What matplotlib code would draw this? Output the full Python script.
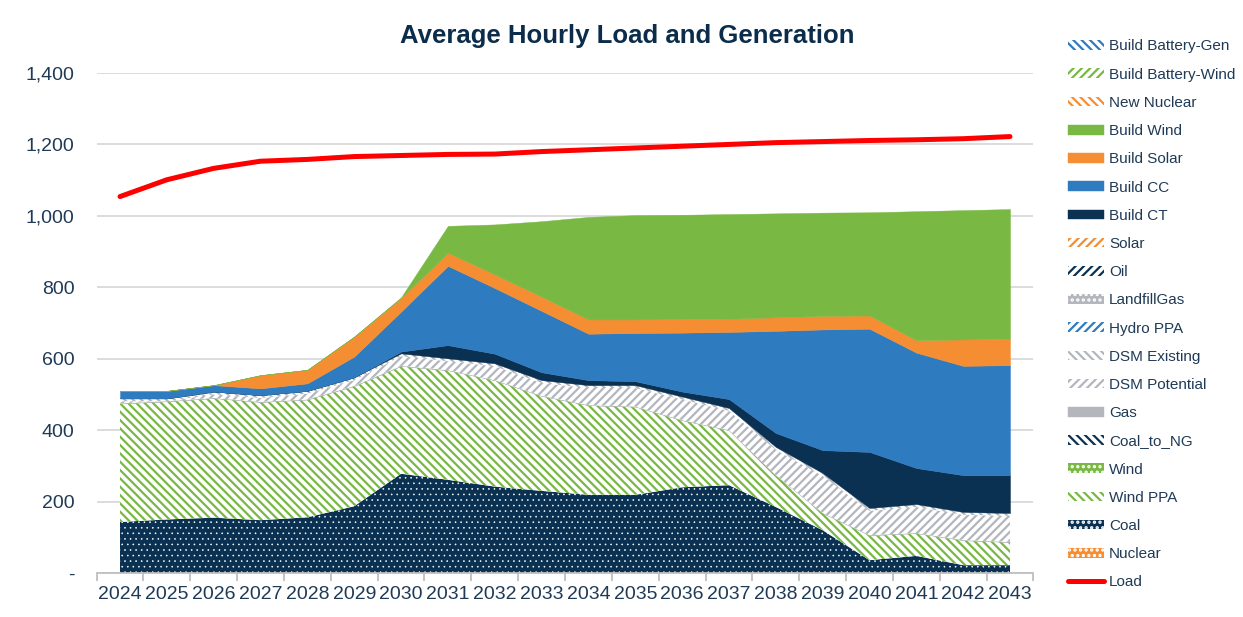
import numpy as np
import matplotlib.pyplot as plt
from matplotlib.patches import Patch
from matplotlib.lines import Line2D

plt.rcParams['font.family'] = ['Liberation Sans', 'DejaVu Sans']
plt.rcParams['hatch.linewidth'] = 1.6

# Data, average MW per hour
years = list(range(2024, 2044))

load = [1054, 1101, 1133, 1153, 1158, 1166, 1169, 1172, 1173, 1180,
        1185, 1190, 1195, 1200, 1205, 1208, 1211, 1213, 1216, 1222]

zeros = [0] * 20
nuclear = zeros
coal = [143, 150, 155, 148, 156, 187, 278, 261, 242, 230,
        219, 219, 240, 246, 185, 120, 36, 48, 22, 22]
wind_ppa = [332, 331, 335, 331, 330, 337, 302, 307, 298, 266,
            251, 247, 188, 154, 89, 48, 70, 64, 70, 65]
wind = zeros
coal_to_ng = zeros
gas = zeros
dsm_potential = [6, 0, 10, 11, 16, 16, 27, 25, 39, 36,
                 48, 52, 58, 54, 71, 104, 68, 73, 71, 73]
dsm_existing = [8, 8, 8, 8, 8, 8, 8, 8, 8, 8,
                8, 8, 8, 8, 8, 8, 8, 8, 8, 8]
hydro_ppa = zeros
landfill_gas = zeros
oil = zeros
solar = zeros
build_ct = [0, 0, 0, 0, 0, 0, 5, 37, 27, 22,
            14, 11, 14, 25, 39, 64, 157, 101, 103, 106]
build_cc = [21, 21, 18, 19, 21, 58, 112, 222, 184, 172,
            130, 135, 165, 188, 286, 338, 345, 323, 306, 308]
build_solar = [0, 0, 0, 37, 38, 56, 38, 37, 38, 40,
               40, 38, 38, 37, 38, 38, 37, 35, 74, 74]
build_wind = [0, 0, 0, 0, 0, 0, 2, 75, 140, 211,
              287, 292, 292, 293, 291, 289, 289, 361, 362, 363]
new_nuclear = zeros
build_battery_wind = zeros
build_battery_gen = zeros

# stacking order, bottom to top
stack = [
    ("Nuclear", nuclear),
    ("Coal", coal),
    ("Wind PPA", wind_ppa),
    ("Wind", wind),
    ("Coal_to_NG", coal_to_ng),
    ("Gas", gas),
    ("DSM Potential", dsm_potential),
    ("DSM Existing", dsm_existing),
    ("Hydro PPA", hydro_ppa),
    ("LandfillGas", landfill_gas),
    ("Oil", oil),
    ("Solar", solar),
    ("Build CT", build_ct),
    ("Build CC", build_cc),
    ("Build Solar", build_solar),
    ("Build Wind", build_wind),
    ("New Nuclear", new_nuclear),
    ("Build Battery-Wind", build_battery_wind),
    ("Build Battery-Gen", build_battery_gen),
]

NAVY = '#0A3152'
BLUE = '#2F7BBF'
ORANGE = '#F58E33'
GREEN = '#78B843'
GRAY = '#B3B6BD'
TXT = '#1F3A56'

BACK = '\\' * 4
FWD = '////'

# color, fill kind, hatch
styles = {
    "Build Battery-Gen": (BLUE, 'hatch', BACK),
    "Build Battery-Wind": (GREEN, 'hatch', FWD),
    "New Nuclear": (ORANGE, 'hatch', BACK),
    "Build Wind": (GREEN, 'solid', None),
    "Build Solar": (ORANGE, 'solid', None),
    "Build CC": (BLUE, 'solid', None),
    "Build CT": (NAVY, 'solid', None),
    "Solar": (ORANGE, 'hatch', FWD),
    "Oil": (NAVY, 'hatch', FWD),
    "LandfillGas": (GRAY, 'dots', '...'),
    "Hydro PPA": (BLUE, 'hatch', FWD),
    "DSM Existing": (GRAY, 'hatch', BACK),
    "DSM Potential": (GRAY, 'hatch', FWD),
    "Gas": (GRAY, 'solid', None),
    "Coal_to_NG": (NAVY, 'hatch', BACK),
    "Wind": (GREEN, 'dots', '...'),
    "Wind PPA": (GREEN, 'hatch', BACK),
    "Coal": (NAVY, 'dots', '...'),
    "Nuclear": (ORANGE, 'dots', '...'),
}


def fill_kw(name):
    color, kind, hatch = styles[name]
    if kind == 'solid':
        return dict(facecolor=color, edgecolor=color, linewidth=0.3)
    if kind == 'hatch':
        return dict(facecolor='white', edgecolor=color, hatch=hatch, linewidth=0)
    return dict(facecolor=color, edgecolor='white', hatch=hatch, linewidth=0)


def hatch_lw(name):
    return 0.4 if styles[name][1] == 'dots' else 1.6


fig = plt.figure(figsize=(12.43, 6.17), dpi=100)
ax = fig.add_axes([0.0777, 0.0713, 0.7537, 0.8104])

x = np.arange(len(years))
base = np.zeros(len(years))
for name, vals in stack:
    top = base + np.array(vals, dtype=float)
    lw = hatch_lw(name)
    with plt.rc_context({'hatch.linewidth': lw}):
        coll = ax.fill_between(x, base, top, **fill_kw(name))
        if hasattr(coll, 'set_hatch_linewidth'):
            coll.set_hatch_linewidth(lw)
    base = top

ax.plot(x, load, color='#FF0000', lw=3.6, solid_capstyle='round', zorder=5)

ax.set_xlim(-0.5, len(years) - 0.5)
ax.set_ylim(0, 1400)
yt = list(range(0, 1401, 200))
ax.set_yticks(yt)
ax.set_yticklabels(['-' if v == 0 else f'{v:,}' for v in yt])
ax.set_xticks(x)
ax.set_xticklabels([str(y) for y in years])
ax.set_xticks(np.arange(-0.5, len(years)), minor=True)

ax.yaxis.grid(True, color='#D9D9D9', lw=1.3)
ax.set_axisbelow(True)
for s in ['top', 'right', 'left']:
    ax.spines[s].set_visible(False)
ax.spines['bottom'].set_color('#BFBFBF')
ax.spines['bottom'].set_linewidth(1.3)
ax.spines['bottom'].set_zorder(6)

ax.tick_params(axis='y', length=0, pad=16, labelsize=14, labelcolor=TXT)
ax.tick_params(axis='x', which='major', length=0, pad=9, labelsize=14, labelcolor=TXT)
ax.tick_params(axis='x', which='minor', length=6, width=1.3, color='#BFBFBF')

fig.text(0.505, 0.941, "Average Hourly Load and Generation", ha='center', va='center',
         fontsize=18.5, fontweight='bold', color='#0B2D4B')

# legend, in the reference's order
handles = []
labels = []
for name, _ in reversed(stack):
    lw = hatch_lw(name)
    with plt.rc_context({'hatch.linewidth': lw}):
        p = Patch(**fill_kw(name))
        if hasattr(p, 'set_hatch_linewidth'):
            p.set_hatch_linewidth(lw)
    handles.append(p)
    labels.append(name)
handles.append(Line2D([0], [0], color='#FF0000', lw=3.6, solid_capstyle='round'))
labels.append("Load")

leg = fig.legend(handles, labels, loc='upper left', bbox_to_anchor=(0.859, 0.936),
                 frameon=False, fontsize=11, labelspacing=0.93, handlelength=2.4,
                 handleheight=0.6, handletextpad=0.3, borderpad=0, borderaxespad=0)
for t in leg.get_texts():
    t.set_color(TXT)

fig.savefig('out.png', dpi=100)
